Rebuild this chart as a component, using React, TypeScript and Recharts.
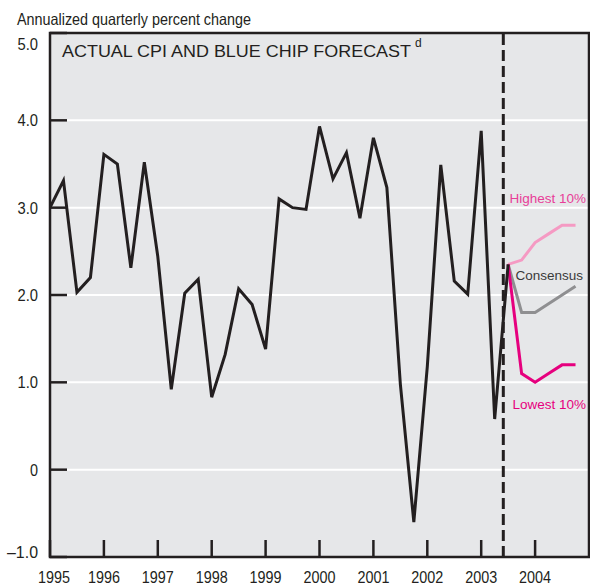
import React from "react";
import {
  LineChart,
  Line,
  XAxis,
  YAxis,
  CartesianGrid,
  ReferenceLine,
  ReferenceArea,
  Customized,
} from "recharts";

// actual CPI, quarterly from 1995 Q1 to 2003 Q3
const cpiActual = [
  3.0, 3.31, 2.03, 2.2, 3.61, 3.5, 2.31, 3.52, 2.44, 0.92, 2.02, 2.18,
  0.83, 1.32, 2.07, 1.89, 1.38, 3.1, 3.0, 2.98, 3.93, 3.33, 3.63, 2.88,
  3.8, 3.23, 0.98, -0.6, 1.18, 3.49, 2.16, 2.01, 3.88, 0.58, 2.35,
];

// Blue Chip forecasts, 2003 Q3 to 2004 Q4
const forecastHigh = [2.35, 2.4, 2.6, 2.7, 2.8, 2.8];
const forecastConsensus = [2.35, 1.8, 1.8, 1.9, 2.0, 2.1];
const forecastLow = [2.35, 1.1, 1.0, 1.1, 1.2, 1.2];

const yearTicks = [1995, 1996, 1997, 1998, 1999, 2000, 2001, 2002, 2003, 2004];
const valueTicks = [-1, 0, 1, 2, 3, 4, 5];
const forecastStart = 2003.41;

const startYear = 1995;
const forecastIndex = cpiActual.length - 1;
const totalQuarters = forecastIndex + forecastHigh.length;

const data = Array.from({ length: totalQuarters }, (_, i) => {
  const f = i - forecastIndex;
  return {
    t: startYear + i / 4,
    cpi: i <= forecastIndex ? cpiActual[i] : null,
    high: f >= 0 ? forecastHigh[f] : null,
    cons: f >= 0 ? forecastConsensus[f] : null,
    low: f >= 0 ? forecastLow[f] : null,
  };
});

const INK = "#231f20";
// no narrow font installed, so glyphs are squeezed with textLength
const SANS = "'Liberation Sans', Arial, Helvetica, sans-serif";

const YearTick = (props: any) => {
  const { x, y, payload, index } = props;
  return (
    <g>
      <line x1={x} y1={y} x2={x} y2={y - 17} stroke={INK} strokeWidth={2.5} />
      <text
        x={x + (index === 0 ? 4 : 0)}
        y={y + 26}
        textAnchor="middle"
        fontFamily={SANS}
        fontSize={17}
        textLength={32}
        lengthAdjust="spacingAndGlyphs"
        fill={INK}
      >
        {payload.value}
      </text>
    </g>
  );
};

const ValueTick = (props: any) => {
  const { x, y, payload } = props;
  const v = payload.value;
  const shift = v === 5 ? 11 : v === -1 ? -5.5 : 0;
  const label = v === 0 ? "0" : v < 0 ? `\u2013${Math.abs(v).toFixed(1)}` : v.toFixed(1);
  const w = v === 0 ? 8 : v < 0 ? 31 : 20.5;
  return (
    <g>
      <line x1={x} y1={y} x2={x + 17} y2={y} stroke={INK} strokeWidth={2.5} />
      <text
        x={x - 12}
        y={y + 6 + shift}
        textAnchor="end"
        fontFamily={SANS}
        fontSize={16}
        textLength={w}
        lengthAdjust="spacingAndGlyphs"
        fill={INK}
      >
        {label}
      </text>
    </g>
  );
};

const Annotations = () => (
  <g>
    <text x={17} y={25} fontFamily={SANS} fontSize={16.5} textLength={234} lengthAdjust="spacingAndGlyphs" fill={INK}>
      Annualized quarterly percent change
    </text>
    <text x={62} y={57} fontFamily={SANS} fontSize={17} textLength={349} lengthAdjust="spacingAndGlyphs" fill={INK}>
      ACTUAL CPI AND BLUE CHIP FORECAST
    </text>
    <text x={415} y={47} fontFamily={SANS} fontSize={12} fill={INK}>
      d
    </text>
    <text x={586} y={203} textAnchor="end" fontFamily={SANS} fontSize={13.5} fill="#e83e98">
      Highest 10%
    </text>
    <text x={583} y={280} textAnchor="end" fontFamily={SANS} fontSize={13.5} fill="#3a3a3a">
      Consensus
    </text>
    <text x={586} y={409} textAnchor="end" fontFamily={SANS} fontSize={13.5} fill="#e6007e">
      Lowest 10%
    </text>
  </g>
);

export default function App() {
  return (
    <div style={{ position: "absolute", left: 0, top: 0, width: 590, height: 586, background: "#fff" }}>
      <LineChart
        width={590}
        height={586}
        data={data}
        margin={{ top: 33, right: 1, left: 0, bottom: 0 }}
      >
        <CartesianGrid
          vertical={false}
          fill="#e6e7e9"
          fillOpacity={1}
          stroke="#ffffff"
          strokeWidth={2}
        />
        <XAxis
          dataKey="t"
          type="number"
          domain={[1995, 2005]}
          ticks={yearTicks}
          allowDataOverflow
          height={29}
          axisLine={false}
          tickLine={false}
          tickSize={0}
          tickMargin={0}
          interval={0}
          tick={<YearTick />}
        />
        <YAxis
          type="number"
          domain={[-1, 5]}
          ticks={valueTicks}
          width={50}
          axisLine={false}
          tickLine={false}
          tickSize={0}
          tickMargin={0}
          interval={0}
          tick={<ValueTick />}
        />
        <ReferenceArea
          x1={1995}
          x2={2005}
          y1={-1}
          y2={5}
          fill="none"
          stroke={INK}
          strokeWidth={2.5}
        />
        <Line dataKey="high" stroke="#f59ac3" strokeWidth={3} dot={false} activeDot={false} isAnimationActive={false} />
        <Line dataKey="cons" stroke="#8f8f91" strokeWidth={3} dot={false} activeDot={false} isAnimationActive={false} />
        <Line dataKey="low" stroke="#e6007e" strokeWidth={3} dot={false} activeDot={false} isAnimationActive={false} />
        <Line dataKey="cpi" stroke={INK} strokeWidth={3} dot={false} activeDot={false} isAnimationActive={false} />
        <ReferenceLine x={forecastStart} stroke={INK} strokeWidth={3} strokeDasharray="11 5" />
        <Customized component={Annotations} />
      </LineChart>
    </div>
  );
}
